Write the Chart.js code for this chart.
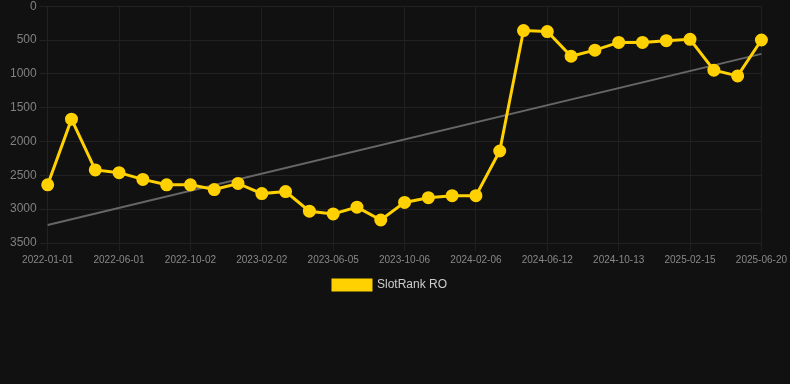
<!DOCTYPE html>
<html>
<head>
<meta charset="utf-8">
<script src="https://cdn.jsdelivr.net/npm/chart.js@4"></script>
<style>
html,body{margin:0;padding:0;background:#111111;overflow:hidden;}
#wrap{position:relative;width:790px;height:305px;margin-top:-4px;}
</style>
</head>
<body>
<div id="wrap"><canvas id="c"></canvas></div>
<script>
const categories = ["2022-01-01","2022-02-20","2022-04-11","2022-06-01","2022-07-12","2022-08-22","2022-10-02","2022-11-12","2022-12-23","2023-02-02","2023-03-15","2023-04-25","2023-06-05","2023-07-16","2023-08-26","2023-10-06","2023-11-16","2023-12-27","2024-02-06","2024-03-19","2024-04-30","2024-06-12","2024-07-23","2024-09-02","2024-10-13","2024-11-24","2025-01-04","2025-02-15","2025-03-30","2025-05-09","2025-06-20"];
const slotRankRO = [2640,1670,2420,2460,2560,2640,2640,2710,2620,2770,2740,3030,3070,2970,3160,2900,2830,2800,2800,2140,360,375,740,650,535,535,510,490,945,1030,500];
const trendStart = 3235;
const trendEnd = 705;
const yTicks = [0,500,1000,1500,2000,2500,3000,3500];

const trend = categories.map((_, i) => i === 0 ? trendStart : (i === categories.length - 1 ? trendEnd : null));

new Chart(document.getElementById('c'), {
  type: 'line',
  data: {
    labels: categories,
    datasets: [
      {
        label: 'SlotRank RO',
        data: slotRankRO,
        borderColor: '#FFD100',
        backgroundColor: '#FFD100',
        borderWidth: 3,
        pointRadius: 5,
        pointHoverRadius: 5,
        pointBackgroundColor: '#FFD100',
        pointBorderColor: '#FFD100',
        tension: 0,
        order: 1
      },
      {
        label: 'trend',
        data: trend,
        borderColor: '#666666',
        borderWidth: 2,
        pointRadius: 0,
        spanGaps: true,
        order: 2
      }
    ]
  },
  options: {
    responsive: true,
    maintainAspectRatio: false,
    animation: false,
    layout: { padding: { left: 0, right: 10, top: 0, bottom: 0 } },
    plugins: {
      legend: {
        position: 'bottom',
        labels: {
          color: '#cccccc',
          font: { family: 'Arial, Liberation Sans, sans-serif', size: 12 },
          boxWidth: 38,
          boxHeight: 10,
          filter: (item) => item.text !== 'trend'
        }
      },
      tooltip: { enabled: false }
    },
    scales: {
      x: {
        grid: { color: '#1f1f1f' },
        border: { color: '#222222' },
        ticks: {
          color: '#888888',
          font: { family: 'Arial, Liberation Sans, sans-serif', size: 10 },
          autoSkip: false,
          maxRotation: 0,
          callback: function(v, i) { return i % 3 === 0 ? categories[i] : null; }
        }
      },
      y: {
        reverse: true,
        min: 0,
        max: 3500,
        grid: { color: '#222222' },
        border: { color: '#222222' },
        afterBuildTicks: (s) => { s.ticks = yTicks.map(v => ({ value: v })); },
        afterFit: (s) => { s.width += 7; },
        ticks: {
          color: '#808080',
          font: { family: 'Arial, Liberation Sans, sans-serif', size: 12 },
          callback: (v) => String(v)
        }
      }
    }
  }
});
</script>
</body>
</html>
